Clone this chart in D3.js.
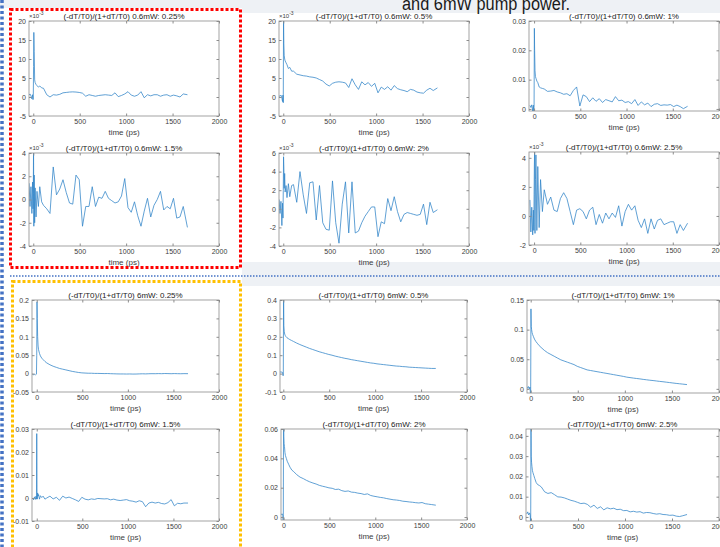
<!DOCTYPE html>
<html>
<head>
<meta charset="utf-8">
<script src="https://cdn.jsdelivr.net/npm/d3@7"></script>
<style>
  body { margin: 0; background: #fff; }
  svg { display: block; font-family: "Liberation Sans", Arial, sans-serif; }
</style>
</head>
<body>
<svg id="chart" width="720" height="547"></svg>
<script>
// time axis shared by every trace (ps)
const times = [-45, -35, -25, -15, -8, -3, 0, 3, 6, 10, 15, 20, 30, 40, 55, 70, 90,
  110, 145, 180, 215, 250, 285, 320, 355, 390, 425, 460, 495, 530, 565, 600, 635, 670, 705, 740, 775,
  810, 845, 880, 915, 950, 985, 1020, 1055, 1090, 1125, 1160, 1195, 1230, 1265, 1300, 1335, 1370, 1405,
  1440, 1475, 1510, 1545, 1580, 1615, 1660];

const xTicks = [0, 500, 1000, 1500, 2000];

const titles = [
  "(-dT/T0)/(1+dT/T0) 0.6mW: 0.25%", "(-dT/T0)/(1+dT/T0) 0.6mW: 0.5%", "(-dT/T0)/(1+dT/T0) 0.6mW: 1%",
  "(-dT/T0)/(1+dT/T0) 0.6mW: 1.5%", "(-dT/T0)/(1+dT/T0) 0.6mW: 2%", "(-dT/T0)/(1+dT/T0) 0.6mW: 2.5%",
  "(-dT/T0)/(1+dT/T0) 6mW: 0.25%", "(-dT/T0)/(1+dT/T0) 6mW: 0.5%", "(-dT/T0)/(1+dT/T0) 6mW: 1%",
  "(-dT/T0)/(1+dT/T0) 6mW: 1.5%", "(-dT/T0)/(1+dT/T0) 6mW: 2%", "(-dT/T0)/(1+dT/T0) 6mW: 2.5%"
];

// 0.6 mW traces (values in x10^-3 where the axis says so)
const low025 = [0.5, 0.8, 0.3, -0.5, 0.6, -0.7, -0.5, 8, 17, 12, 4.5, 3.8, 3.3, 3.0, 2.6, 2.9, 2.4,
  2.3, 0.6, 0.0, 0.6, 0.5, 0.7, 1.1, 1.2, 1.3, 1.35,
  1.3, 1.2, 1.0, 0.2, 0.6, 0.4, 0.2, 0.4, 0.5, 0.6,
  0.5, 0.4, 1.1, 0.1, 0.4, 0.8, 1.4, 0.5, 0.2, 0.5,
  1.4, -0.2, 0.6, 0.3, 0.6, 0.6, 0.2, 0.5, 0.6, 0.2,
  0.5, 0.3, 0.0, 0.8, 0.6];
const low05 = [0.3, 0.2, 0.5, -0.3, -1.2, 0.5, -1.5, 21, 14, 11, 10, 9.5, 9, 8.5, 7.5, 7.8, 6.8,
  6.8, 6.0, 5.8, 5.6, 5.5, 5.3, 5.2, 5.0, 4.6, 4.2,
  3.4, 2.9, 3.6, 3.9, 4.0, 3.9, 3.7, 2.5, 4.8, 3.2,
  2.0, 4.0, 3.2, 3.8, 2.8, 3.6, 1.1, 2.6, 2.0, 2.7,
  1.8, 3.0, 2.2, 1.9, 1.7, 1.4, 2.0, 1.8, 1.3, 1.1,
  1.0, 1.8, 2.3, 1.7, 2.4];
const low1 = [0.0012, 0.0005, 0.0014, -0.0008, 0.0013, -0.0009, 0.001, 0.0275, 0.02, 0.013, 0.011, 0.0105, 0.0095, 0.009, 0.0075, 0.0072, 0.007,
  0.0068, 0.006, 0.0061, 0.0063, 0.0058, 0.0055, 0.005, 0.0052, 0.0045, 0.0063,
  0.0075, 0.001, 0.0048, 0.0042, 0.0025, 0.0038, 0.0026, 0.0035, 0.0022, 0.0032,
  0.0028, 0.0024, 0.0042, 0.0028, 0.003, 0.0022, 0.0025, 0.0018, 0.0032, 0.0012,
  0.0024, 0.0014, 0.002, 0.0008, 0.0016, 0.0018, 0.0012, 0.0014, 0.0013, 0.0015,
  0.0008, 0.0013, 0.0008, 0.0001, 0.0009];
const low15 = [1.4, -0.6, 1.1, -1.2, 1.5, -0.8, 0.5, 4.5, -2.3, 2.1, -2.0, 1.0, -1.5, 0.7, -0.6, 1.1, -0.2,
  -0.5, -0.8, -1.2, 2.8, 0.4, 0.9, 1.7, 0.6, -0.3, -0.4,
  2.1, 1.7, -2.3, -0.6, -0.6, 1.1, -0.6, 0.2, 0.1, 0.7,
  0.1, -0.1, -0.3, -0.2, 0.3, 1.8, -0.7, -1.1, -0.2, -1.4,
  -2.3, -1.0, 0.1, -1.5, -0.5, 0.0, 0.7, -0.9, -0.6, -0.8,
  0.1, -1.6, -1.5, -0.6, -2.4];
const low2 = [1.0, -0.5, 0.8, -1.8, 0.6, -1.0, 2.0, 5.6, 4.5, 2.2, 3.8, 1.8, 2.5, 1.2, 2.7, 1.3, 2.5,
  2.6, 0.7, 4.0, 1.5, -0.5, 2.8, 2.9, -1.2, 2.5, -1.5,
  -2.2, -2.3, 3.0, -1.5, -3.7, 0.5, 2.9, -2.6, 2.9, -2.6,
  -2.4, -1.5, -0.8, -0.3, 0.2, 0.2, -3.0, -1.4, -1.6, 1.1,
  -0.2, 1.3, -0.3, -1.4, -0.6, -0.4, -0.5, -0.6, -0.7, -0.6,
  0.5, -1.7, 0.7, -0.4, -0.1];
const low25 = [1.1, -1.1, 0.6, -1.3, 0.4, -1.0, 1.5, 3.5, 4.6, -1.2, 2.5, 4.2, -1.0, 3.4, -0.8, 2.5, 0.3,
  1.8, 0.8, 1.3, 0.4, 0.3, 1.2, 1.6, 1.2, 0.3, -0.6,
  0.4, 0.5, 0.3, -0.2, 0.4, 0.6, -0.6, 0.1, -0.5, 0.2,
  -0.2, 0.2, -0.1, 0.7, -0.7, 0.3, 0.8, 0.4, 0.7, -0.3,
  -0.8, -0.2, -1.2, -0.2, -0.9, -0.3, -0.2, -0.6, -0.5, -0.4,
  -0.4, -1.2, -0.6, -1.0, -0.5];

// 6 mW traces
const high025 = [-0.002, -0.003, -0.002, -0.004, -0.002, -0.001, 0.05, 0.195, 0.15, 0.1, 0.075, 0.065, 0.055, 0.048, 0.042, 0.038, 0.033,
  0.029, 0.024, 0.02, 0.017, 0.014, 0.012, 0.01, 0.008, 0.006, 0.0045,
  0.003, 0.002, 0.0015, 0.001, 0.001, 0.0005, 0.0005, 0.0003, 0.0001, 0.0002,
  -0.0002, -0.0005, -0.0008, -0.001, -0.001, -0.0012, -0.001, -0.0013, -0.0012, -0.0008,
  -0.0005, -0.0008, -0.0004, -0.0002, -0.0003, 0.0, -0.0002, 0.0002, 0.0, -0.0003,
  0.0001, -0.0002, -0.0004, -0.0001, -0.0002];
const high05 = [0.008, 0.01, 0.007, 0.009, 0.006, -0.012, -0.01, 0.45, 0.26, 0.23, 0.215, 0.208, 0.2, 0.195, 0.19, 0.185, 0.18,
  0.175, 0.166, 0.158, 0.151, 0.144, 0.137, 0.131, 0.125, 0.119, 0.114,
  0.109, 0.104, 0.1, 0.095, 0.091, 0.087, 0.083, 0.08, 0.076, 0.073,
  0.07, 0.067, 0.064, 0.061, 0.058, 0.056, 0.053, 0.051, 0.049, 0.047,
  0.045, 0.043, 0.041, 0.04, 0.038, 0.037, 0.035, 0.034, 0.033, 0.032,
  0.031, 0.03, 0.029, 0.028, 0.028];
const high1 = [0.003, 0.001, 0.004, 0.0, 0.003, -0.007, -0.007, 0.135, 0.105, 0.1, 0.095, 0.092, 0.088, 0.084, 0.08, 0.077, 0.073,
  0.07, 0.065, 0.061, 0.058, 0.055, 0.052, 0.049, 0.047, 0.045, 0.043,
  0.041, 0.038, 0.036, 0.034, 0.032, 0.031, 0.03, 0.029, 0.028, 0.027,
  0.026, 0.025, 0.024, 0.023, 0.022, 0.021, 0.0198, 0.019, 0.0182, 0.0175,
  0.0168, 0.016, 0.0153, 0.0146, 0.014, 0.0133, 0.0126, 0.012, 0.0113, 0.0106,
  0.0099, 0.0092, 0.0086, 0.008, 0.0072];
const high15 = [0.0, -0.0008, 0.0005, -0.0006, 0.0008, -0.0005, 0.028, 0.002, -0.0005, 0.0022, 0.0008, 0.0015, -0.0005, 0.001, 0.0002, 0.0008, -0.0005,
  0.0, 0.0008, -0.0004, 0.0003, -0.001, 0.0008, 0.0, 0.0004, -0.0002, -0.0008,
  -0.0015, 0.0003, -0.0005, -0.0008, -0.0004, -0.0006, -0.0002, -0.0003, -0.0004, -0.0003,
  -0.0008, -0.0005, -0.0009, -0.0011, -0.0009, -0.0007, -0.0012, -0.0014, -0.0018, -0.0012,
  -0.0016, -0.0038, -0.0022, -0.0018, -0.0022, -0.0019, -0.0024, -0.0026, -0.002, -0.0007,
  -0.0034, -0.0023, -0.0025, -0.0022, -0.0022];
const high2 = [0.0015, 0.0025, 0.0018, 0.0022, 0.001, -0.004, 0.07, 0.055, 0.05, 0.048, 0.044, 0.042, 0.04, 0.038, 0.036, 0.034, 0.032,
  0.031, 0.0288, 0.0272, 0.0262, 0.025, 0.024, 0.0232, 0.0225, 0.0216, 0.021,
  0.0205, 0.0199, 0.0196, 0.0188, 0.019, 0.018, 0.0175, 0.0178, 0.017, 0.0168,
  0.0163, 0.016, 0.0154, 0.0158, 0.0147, 0.0142, 0.0138, 0.0134, 0.0131, 0.0126,
  0.0122, 0.0118, 0.0116, 0.0113, 0.0108, 0.0106, 0.0103, 0.0101, 0.0098, 0.0096,
  0.0099, 0.0091, 0.0088, 0.0085, 0.0081];
const high25 = [0.0015, 0.0025, 0.001, 0.002, 0.0008, -0.004, 0.05, 0.03, 0.027, 0.025, 0.023, 0.022, 0.0205, 0.019, 0.017, 0.016, 0.0155,
  0.0148, 0.0124, 0.0116, 0.012, 0.011, 0.0099, 0.0098, 0.0094, 0.0088, 0.0082,
  0.0078, 0.0072, 0.0066, 0.0068, 0.0062, 0.0048, 0.0058, 0.0042, 0.005, 0.0035,
  0.0045, 0.004, 0.0043, 0.0036, 0.0038, 0.0031, 0.0032, 0.0025, 0.0028, 0.0024,
  0.0026, 0.0019, 0.0022, 0.0021, 0.0017, 0.0014, 0.0016, 0.0012, 0.0011, 0.0008,
  0.0009, 0.0004, 0.0002, 0.0006, 0.0012];

// y tick values per panel
const yTicksLow025 = [-5, 0, 5, 10, 15, 20];
const yTicksLow1 = [0, 0.01, 0.02, 0.03];
const yTicksLow15 = [-4, -2, 0, 2, 4];
const yTicksLow2 = [-4, -2, 0, 2, 4, 6];
const yTicksLow25 = [-2, 0, 2, 4];
const yTicksHigh025 = [-0.05, 0, 0.05, 0.1, 0.15, 0.2];
const yTicksHigh05 = [-0.1, 0, 0.1, 0.2, 0.3, 0.4];
const yTicksHigh1 = [0, 0.05, 0.1, 0.15];
const yTicksHigh15 = [-0.01, 0, 0.01, 0.02, 0.03];
const yTicksHigh2 = [0, 0.02, 0.04, 0.06];
const yTicksHigh25 = [0, 0.01, 0.02, 0.03, 0.04];

// layout: [left, right, top, bottom] of each axes box
const panels = [
  { values: low025, box: [29, 219, 21, 116], xMin: -46, yDomain: [-5, 20], yTicks: yTicksLow025, exp: true },
  { values: low05, box: [279, 469, 21, 116], xMin: -46, yDomain: [-5, 20], yTicks: yTicksLow025, exp: true },
  { values: low1, box: [529, 719, 21, 111], xMin: -55, yDomain: [-0.0007, 0.03], yTicks: yTicksLow1, exp: false },
  { values: low15, box: [29, 219, 153, 246], xMin: -46, yDomain: [-4, 4], yTicks: yTicksLow15, exp: true },
  { values: low2, box: [279, 469, 153, 246], xMin: -46, yDomain: [-4, 6], yTicks: yTicksLow2, exp: true },
  { values: low25, box: [529, 719, 152, 245], xMin: -55, yDomain: [-2, 4.4], yTicks: yTicksLow25, exp: true },
  { values: high025, box: [32, 219, 300, 392], xMin: -52, yDomain: [-0.05, 0.2], yTicks: yTicksHigh025, exp: false },
  { values: high05, box: [280, 467, 300, 392], xMin: -36, yDomain: [-0.1, 0.4], yTicks: yTicksHigh05, exp: false },
  { values: high1, box: [527, 719, 300, 393], xMin: -39, yDomain: [-0.007, 0.15], yTicks: yTicksHigh1, exp: false },
  { values: high15, box: [32, 219, 429, 521], xMin: -52, yDomain: [-0.01, 0.03], yTicks: yTicksHigh15, exp: false },
  { values: high2, box: [281, 467, 429, 520], xMin: -28, yDomain: [-0.002, 0.06], yTicks: yTicksHigh2, exp: false },
  { values: high25, box: [526, 719, 429, 521], xMin: -53, yDomain: [-0.002, 0.0434], yTicks: yTicksHigh25, exp: false }
];

const axisColor = "#8c8c8c";
const labelColor = "#3c3c3c";
const lineColor = "#2f83c8";

const svg = d3.select("#chart");

// slide background bits
svg.append("rect").attr("x", 0).attr("y", 0).attr("width", 720).attr("height", 547).attr("fill", "#fff");
svg.append("rect").attr("x", 0).attr("y", 0).attr("width", 720).attr("height", 8).attr("fill", "#eef1f5");
svg.append("rect").attr("x", 242).attr("y", 0).attr("width", 478).attr("height", 13).attr("fill", "#eef1f5");
svg.append("rect").attr("x", 242).attr("y", 262).attr("width", 478).attr("height", 24).attr("fill", "#eef1f5");
svg.append("text")
  .attr("x", 402).attr("y", 9.5)
  .attr("font-size", 18)
  .attr("textLength", 168).attr("lengthAdjust", "spacingAndGlyphs")
  .attr("fill", "#1a1a1a")
  .text("and 6mW pump power.");

const fmt = (d) => String(d);

panels.forEach((p, i) => {
  const [x0, x1, y0, y1] = p.box;
  const x = d3.scaleLinear().domain([p.xMin, 2000]).range([x0, x1]);
  const y = d3.scaleLinear().domain(p.yDomain).range([y1, y0]);
  const g = svg.append("g");

  g.append("clipPath").attr("id", "clip" + i)
    .append("rect").attr("x", x0).attr("y", y0).attr("width", x1 - x0).attr("height", y1 - y0);

  const line = d3.line()
    .x((d, j) => x(times[j]))
    .y((d) => y(d));

  g.append("path")
    .datum(p.values)
    .attr("clip-path", `url(#clip${i})`)
    .attr("d", line)
    .attr("fill", "none")
    .attr("stroke", lineColor)
    .attr("stroke-opacity", 0.85)
    .attr("stroke-width", 0.9)
    .attr("stroke-linejoin", "round");

  const axes = [
    { axis: d3.axisBottom(x).tickValues(xTicks).tickFormat(fmt), t: `translate(0,${y1})` },
    { axis: d3.axisTop(x).tickValues(xTicks).tickFormat(""), t: `translate(0,${y0})` },
    { axis: d3.axisLeft(y).tickValues(p.yTicks).tickFormat(fmt), t: `translate(${x0},0)` },
    { axis: d3.axisRight(y).tickValues(p.yTicks).tickFormat(""), t: `translate(${x1},0)` }
  ];
  axes.forEach((a) => {
    const ag = g.append("g")
      .attr("transform", a.t)
      .call(a.axis.tickSize(-2.5).tickSizeOuter(0).tickPadding(3));
    ag.select(".domain").remove();
    ag.attr("font-size", 7).attr("font-family", null);
    ag.selectAll("line").attr("stroke", axisColor);
    ag.selectAll("text").attr("fill", labelColor);
  });

  g.append("rect")
    .attr("x", x0).attr("y", y0)
    .attr("width", x1 - x0).attr("height", y1 - y0)
    .attr("fill", "none")
    .attr("stroke", axisColor)
    .attr("stroke-width", 0.8);

  g.append("text")
    .attr("x", (x0 + x1) / 2).attr("y", y0 - 2.5)
    .attr("text-anchor", "middle")
    .attr("font-size", 8)
    .attr("fill", "#222")
    .text(titles[i]);

  g.append("text")
    .attr("x", (x0 + x1) / 2).attr("y", y1 + 19)
    .attr("text-anchor", "middle")
    .attr("font-size", 8)
    .attr("fill", labelColor)
    .text("time (ps)");

  if (p.exp) {
    const e = g.append("text")
      .attr("x", x0).attr("y", y0 - 3)
      .attr("font-size", 6)
      .attr("fill", labelColor);
    e.append("tspan").text("\u00d710");
    e.append("tspan").attr("dy", -3).attr("font-size", 5).text("-3");
  }
});

// highlight boxes drawn over the slide
svg.append("line")
  .attr("x1", 2).attr("x2", 2).attr("y1", 0).attr("y2", 547)
  .attr("stroke", "#4472c4").attr("stroke-width", 3.5).attr("stroke-dasharray", "3 2.5");
svg.append("line")
  .attr("x1", 10).attr("x2", 720).attr("y1", 276).attr("y2", 276)
  .attr("stroke", "#4472c4").attr("stroke-width", 1.5).attr("stroke-dasharray", "1.5 1.5");
svg.append("rect")
  .attr("x", 10.5).attr("y", 9.5).attr("width", 230).attr("height", 258)
  .attr("fill", "none").attr("stroke", "#ff0000").attr("stroke-width", 3).attr("stroke-dasharray", "3 2");
svg.append("rect")
  .attr("x", 12.5).attr("y", 281.5).attr("width", 228).attr("height", 280)
  .attr("fill", "none").attr("stroke", "#ffc000").attr("stroke-width", 3).attr("stroke-dasharray", "3 2");
</script>
</body>
</html>
